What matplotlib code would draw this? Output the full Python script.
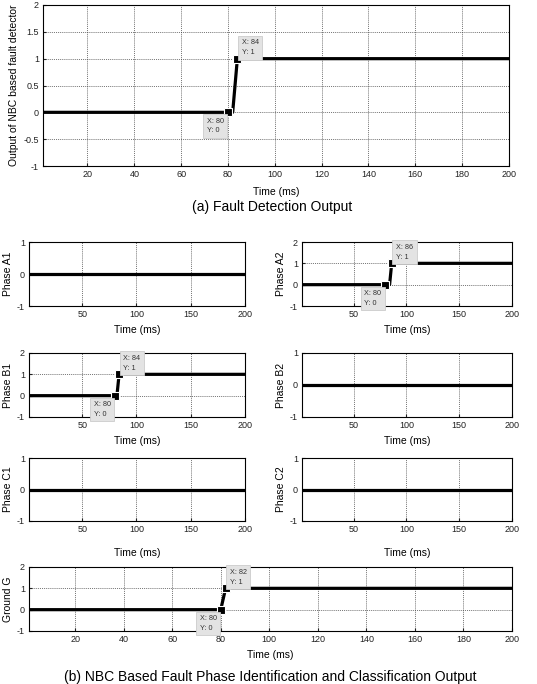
import numpy as np
import matplotlib
matplotlib.use('Agg')
import matplotlib.pyplot as plt

# step signals (breakpoints)
t_det = [1, 80, 82, 84, 200]
y_det = [0, 0, 0, 1, 1]
tips_det = [(80, 0), (84, 1)]

t_flat = [1, 200]
y_flat = [0, 0]

t_a2 = [1, 80, 84, 86, 200]
y_a2 = [0, 0, 0, 1, 1]
tips_a2 = [(80, 0), (86, 1)]

t_b1 = [1, 80, 82, 84, 200]
y_b1 = [0, 0, 0, 1, 1]
tips_b1 = [(80, 0), (84, 1)]

t_g = [1, 80, 82, 200]
y_g = [0, 0, 1, 1]
tips_g = [(80, 0), (82, 1)]

W, H = 537, 684
fig = plt.figure(figsize=(W / 100, H / 100), dpi=100)
plt.rcParams['font.family'] = 'Liberation Sans'


def px_axes(left, top, right, bottom):
    return fig.add_axes([left / W, 1 - bottom / H, (right - left) / W, (bottom - top) / H])


def style(ax, ylim, yticks, xticks, ylabel, fs=6.5):
    ax.set_xlim(1, 200)
    ax.set_ylim(*ylim)
    ax.set_yticks(yticks)
    ax.set_xticks(xticks)
    ax.set_yticklabels([f'{v:g}' for v in yticks])
    ax.grid(True, linestyle=(0, (1.5, 1.5)), color='#404040', linewidth=0.5)
    ax.tick_params(direction='in', length=2, labelsize=fs, pad=3, colors='#222222')
    for s in ax.spines.values():
        s.set_linewidth(0.8)
    ax.set_xlabel('Time (ms)', fontsize=7.5, labelpad=4)
    ax.set_ylabel(ylabel, fontsize=7.5, labelpad=3)


def draw(ax, t, y, tips):
    ax.plot(t, y, color='black', linewidth=2.3, solid_capstyle='butt', zorder=3)
    for x, v in tips:
        ax.plot([x], [v], 's', color='black', markersize=5.5, mec='white', mew=0.8, zorder=4)
        if v > 0:
            off, ha, va = (3, 2), 'left', 'bottom'
        else:
            off, ha, va = (-3, -4), 'right', 'top'
        ax.annotate(f'X: {x}\nY: {v}', xy=(x, v), xytext=off, textcoords='offset points',
                    ha=ha, va=va, multialignment='left', fontsize=5.2, color='#333333',
                    linespacing=1.5,
                    bbox=dict(boxstyle='square,pad=0.5', fc='#e3e3e3', ec='#cccccc', lw=0.6),
                    annotation_clip=False, zorder=5)


# (a) fault detection
ax = px_axes(43, 5, 509, 166)
style(ax, (-1, 2), [-1, -0.5, 0, 0.5, 1, 1.5, 2], [20, 40, 60, 80, 100, 120, 140, 160, 180, 200],
      'Output of NBC based fault detector')
ax.set_xlabel('Time (ms)', fontsize=7.5, labelpad=6)
draw(ax, t_det, y_det, tips_det)
fig.text(272 / W, 1 - 207 / H, '(a) Fault Detection Output', ha='center', va='center', fontsize=10)

# (b) phase outputs
xt = [50, 100, 150, 200]
rows = [(242, 306), (353, 417), (458, 521)]
panels = [
    ('Phase A1', 0, 0, t_flat, y_flat, [], (-1, 1), [-1, 0, 1]),
    ('Phase A2', 0, 1, t_a2, y_a2, tips_a2, (-1, 2), [-1, 0, 1, 2]),
    ('Phase B1', 1, 0, t_b1, y_b1, tips_b1, (-1, 2), [-1, 0, 1, 2]),
    ('Phase B2', 1, 1, t_flat, y_flat, [], (-1, 1), [-1, 0, 1]),
    ('Phase C1', 2, 0, t_flat, y_flat, [], (-1, 1), [-1, 0, 1]),
    ('Phase C2', 2, 1, t_flat, y_flat, [], (-1, 1), [-1, 0, 1]),
]
for name, r, c, t, y, tips, yl, yt in panels:
    top, bot = rows[r]
    left, right = (29, 245) if c == 0 else (302, 512)
    ax = px_axes(left, top, right, bot)
    style(ax, yl, yt, xt, name)
    if r == 2:
        ax.set_xlabel('Time (ms)', fontsize=7.5, labelpad=10)
    draw(ax, t, y, tips)

ax = px_axes(29, 567, 512, 631)
style(ax, (-1, 2), [-1, 0, 1, 2], [20, 40, 60, 80, 100, 120, 140, 160, 180, 200], 'Ground G')
draw(ax, t_g, y_g, tips_g)
fig.text(270 / W, 1 - 677 / H, '(b) NBC Based Fault Phase Identification and Classification Output',
         ha='center', va='center', fontsize=10)

fig.savefig('out.png', dpi=100)
